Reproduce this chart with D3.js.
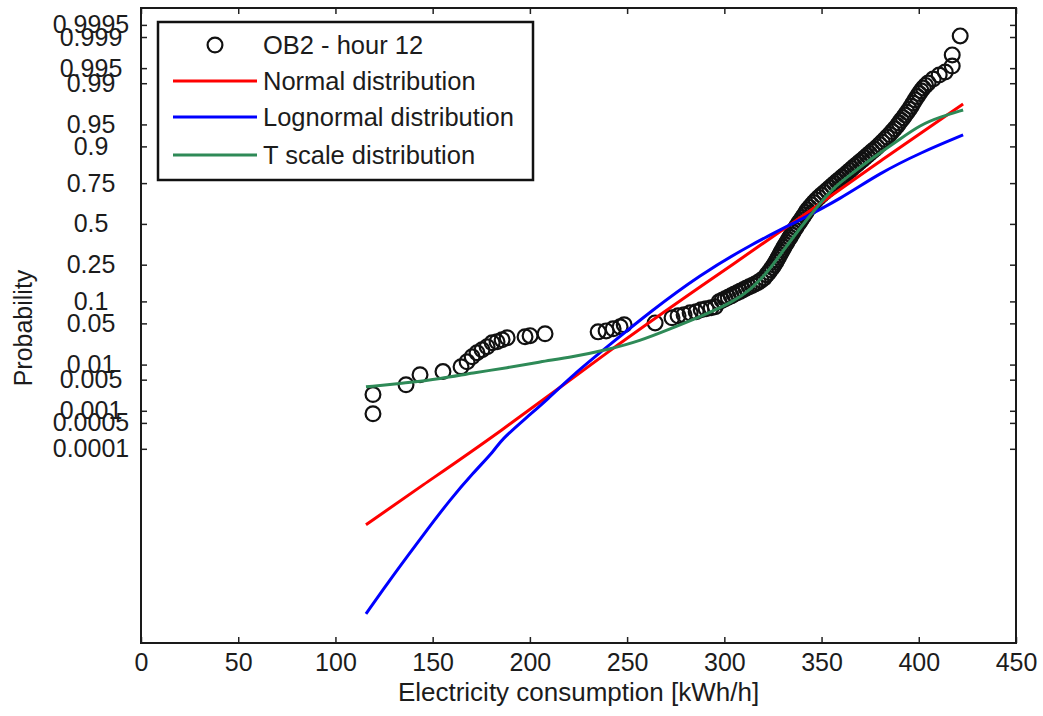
<!DOCTYPE html>
<html>
<head>
<meta charset="utf-8">
<script src="https://cdn.jsdelivr.net/npm/d3@7"></script>
<style>
  html, body { margin: 0; padding: 0; background: #fff; }
  svg text { font-family: "Liberation Sans", Arial, sans-serif; fill: #1c1c1c; }
</style>
</head>
<body>
<div id="chart"></div>
<script>
// probability plot: OB2 - hour 12

// observed points (kWh/h, cumulative probability)
const obsX = [119.3,119.3,136.3,143.5,155.3,164.6,167.7,170.3,172.8,175.4,178.0,180.6,183.1,185.7,188.3,197.5,200.1,207.8,
  235.1,239.2,242.8,246.4,248.5,264.4,273.1,276.2,279.3,282.4,285.5,288.1,290.6,293.2,295.3,
  297.3,298.9,300.4,302.0,303.5,305.0,306.6,308.1,309.7,311.2,312.8,314.3,315.8,317.4,318.9,320.5,
  321.8,322.8,323.8,324.7,325.6,326.4,327.1,327.8,328.5,329.2,329.9,330.6,331.4,332.1,332.9,333.7,334.5,335.2,336.0,336.8,
  337.6,338.5,339.4,340.2,341.1,341.9,342.7,343.8,344.9,346.0,347.2,348.5,349.9,351.4,352.9,
  354.2,355.5,356.7,358.0,359.3,360.6,361.9,363.2,364.5,365.7,367.0,368.3,369.6,370.9,372.2,373.5,374.7,376.0,377.3,378.6,
  379.9,381.2,382.5,383.7,385.0,386.3,387.6,388.9,389.9,390.9,392.0,393.0,394.0,395.1,396.1,397.1,398.1,399.2,400.2,401.2,
  402.3,403.5,404.8,407.4,410.5,413.6,417.2,417.2,421.3];
const obsP = [0.00085,0.0024,0.0039,0.0063,0.0073,0.0091,0.0113,0.0140,0.0166,0.0187,0.0211,0.0247,0.0257,0.0277,0.0299,0.0310,0.0323,0.0346,
  0.0371,0.0384,0.0414,0.0444,0.0477,0.0508,0.0603,0.0642,0.0664,0.0707,0.0729,0.0777,0.0801,0.0826,0.0851,
  0.0988,0.1034,0.1078,0.1124,0.1170,0.1221,0.1271,0.1323,0.1377,0.1434,0.1493,0.1545,0.1606,0.1670,0.1755,0.1860,
  0.1999,0.2113,0.2238,0.2361,0.2490,0.2626,0.2760,0.2900,0.3043,0.3189,0.3337,0.3490,0.3645,0.3798,0.3960,0.4118,0.4278,0.4443,0.4606,0.4769,
  0.4933,0.5100,0.5263,0.5426,0.5592,0.5753,0.5914,0.6076,0.6232,0.6387,0.6543,0.6693,0.6840,0.6988,0.7130,
  0.7247,0.7366,0.7479,0.7593,0.7700,0.7808,0.7910,0.8009,0.8108,0.8202,0.8295,0.8382,0.8469,0.8549,0.8628,0.8706,0.8778,0.8849,0.8916,0.8985,
  0.9056,0.9123,0.9188,0.9248,0.9304,0.9365,0.9422,0.9479,0.9525,0.9567,0.9605,0.9642,0.9676,0.9709,0.9742,0.9772,0.9800,0.9824,0.9844,0.9862,
  0.9877,0.9890,0.9901,0.9917,0.9931,0.9940,0.9955,0.9974,0.99906];

// fitted distributions
const normalX = [115.7,143.5,182.1,241.3,287.5,339.0,380.1,422.8];
const normalP = [3.25e-7,6.9e-6,2.29e-4,0.0187,0.1489,0.5395,0.8511,0.9763];

const lognormalX = [115.7,128.1,136.8,147.1,158.9,170.8,182.1,184.7,198.6,208.8,222.2,239.7,261.8,287.5,313.3,339.0,359.6,380.1,400.7,422.8];
const lognormalP = [5.7e-11,2.0e-9,1.85e-8,2.11e-7,2.52e-6,1.91e-5,9.35e-5,1.67e-4,7.1e-4,0.00181,0.00628,0.0210,0.0729,0.1997,0.3643,0.5263,0.6602,0.8004,0.8798,0.9293];

const tscaleX = [115.7,136.8,153.8,170.8,188.3,205.2,222.2,239.7,256.7,272.1,287.5,304.5,313.3,322.0,330.2,339.0,347.7,356.0,364.7,373.5,380.1,390.4,400.7,411.0,422.8];
const tscaleP = [0.00353,0.00430,0.00520,0.00689,0.00866,0.01128,0.01398,0.01863,0.02656,0.0413,0.0621,0.0987,0.1377,0.2090,0.3278,0.4737,0.6106,0.7241,0.7910,0.8473,0.8798,0.9200,0.9491,0.9615,0.9702];

// axes
const xTicks = [0,50,100,150,200,250,300,350,400,450];
const yTickProbs = [0.0001,0.0005,0.001,0.005,0.01,0.05,0.1,0.25,0.5,0.75,0.9,0.95,0.99,0.995,0.999,0.9995];
const yTickLabels = ["0.0001","0.0005","0.001","0.005","0.01","0.05","0.1","0.25","0.5","0.75","0.9","0.95","0.99","0.995","0.999","0.9995"];

const legendLabels = ["OB2 - hour 12","Normal distribution","Lognormal distribution","T scale distribution"];
const seriesColors = ["#ff0000","#0000ff","#2e8a57"];

// inverse normal CDF (Acklam)
function probit(p) {
  const a = [-3.969683028665376e+01, 2.209460984245205e+02, -2.759285104469687e+02, 1.383577518672690e+02, -3.066479806614716e+01, 2.506628277459239e+00];
  const b = [-5.447609879822406e+01, 1.615858368580409e+02, -1.556989798598866e+02, 6.680131188771972e+01, -1.328068155288572e+01];
  const c = [-7.784894002430293e-03, -3.223964580411365e-01, -2.400758277161838e+00, -2.549732539343734e+00, 4.374664141464968e+00, 2.938163982698783e+00];
  const d = [7.784695709041462e-03, 3.224671290700398e-01, 2.445134137142996e+00, 3.754408661907416e+00];
  const pl = 0.02425;
  let q, r;
  if (p < pl) {
    q = Math.sqrt(-2 * Math.log(p));
    return (((((c[0]*q+c[1])*q+c[2])*q+c[3])*q+c[4])*q+c[5]) / ((((d[0]*q+d[1])*q+d[2])*q+d[3])*q+1);
  }
  if (p <= 1 - pl) {
    q = p - 0.5; r = q * q;
    return (((((a[0]*r+a[1])*r+a[2])*r+a[3])*r+a[4])*r+a[5])*q / (((((b[0]*r+b[1])*r+b[2])*r+b[3])*r+b[4])*r+1);
  }
  q = Math.sqrt(-2 * Math.log(1 - p));
  return -(((((c[0]*q+c[1])*q+c[2])*q+c[3])*q+c[4])*q+c[5]) / ((((d[0]*q+d[1])*q+d[2])*q+d[3])*q+1);
}

const W = 1043, H = 716;
const margin = { top: 8, right: 27, bottom: 73, left: 141 };
const iw = W - margin.left - margin.right;
const ih = H - margin.top - margin.bottom;

const svg = d3.select("#chart").append("svg")
  .attr("width", W).attr("height", H);
const g = svg.append("g").attr("transform", `translate(${margin.left},${margin.top})`);

const x = d3.scaleLinear().domain([0, 450]).range([0, iw]);
// normal probability scale: linear in z = probit(p)
const z = d3.scaleLinear().domain([-6.93, 3.57]).range([ih, 0]);
const y = p => z(probit(p));

const zTicks = yTickProbs.map(probit);

function styleTicks(sel) {
  sel.select(".domain").remove();
  sel.selectAll(".tick line").attr("stroke", "#222").attr("stroke-width", 1.5);
}

// bottom
g.append("g").attr("transform", `translate(0,${ih})`)
  .call(d3.axisBottom(x).tickValues(xTicks).tickSizeInner(-6).tickSizeOuter(0).tickPadding(10))
  .call(styleTicks)
  .selectAll("text").style("font-size", "25px").attr("fill", "#1c1c1c");
// top
g.append("g")
  .call(d3.axisTop(x).tickValues(xTicks).tickSizeInner(-6).tickSizeOuter(0).tickFormat(""))
  .call(styleTicks);
// left
g.append("g")
  .call(d3.axisLeft(z).tickValues(zTicks).tickFormat((d, i) => yTickLabels[i]).tickSizeInner(-6).tickSizeOuter(0))
  .call(styleTicks)
  .selectAll("text")
  .attr("x", -50).attr("text-anchor", "middle")
  .style("font-size", "25px").attr("fill", "#1c1c1c");
// right
g.append("g").attr("transform", `translate(${iw},0)`)
  .call(d3.axisRight(z).tickValues(zTicks).tickSizeInner(-6).tickSizeOuter(0).tickFormat(""))
  .call(styleTicks);

// frame
g.append("rect")
  .attr("width", iw).attr("height", ih)
  .attr("fill", "none").attr("stroke", "#1a1a1a").attr("stroke-width", 2);

// observations
const obs = d3.zip(obsX, obsP);
g.append("g").selectAll("circle")
  .data(obs)
  .enter().append("circle")
    .attr("cx", d => x(d[0]))
    .attr("cy", d => y(d[1]))
    .attr("r", 7.4)
    .attr("fill", "none")
    .attr("stroke", "#111")
    .attr("stroke-width", 2.2);

// fitted curves
const line = d3.line().x(d => x(d[0])).y(d => y(d[1])).curve(d3.curveBasis);
const curves = [d3.zip(normalX, normalP), d3.zip(lognormalX, lognormalP), d3.zip(tscaleX, tscaleP)];
curves.forEach((c, i) => {
  g.append("path")
    .datum(c)
    .attr("d", line)
    .attr("fill", "none")
    .attr("stroke", seriesColors[i])
    .attr("stroke-width", 3)
    .attr("stroke-linejoin", "round");
});

// axis titles
svg.append("text")
  .attr("x", margin.left + iw / 2).attr("y", 701)
  .attr("text-anchor", "middle")
  .style("font-size", "26px")
  .text("Electricity consumption [kWh/h]");

svg.append("text")
  .attr("transform", "translate(32,328) rotate(-90)")
  .attr("text-anchor", "middle")
  .style("font-size", "25px")
  .text("Probability");

// legend
const lg = svg.append("g").attr("transform", "translate(158,22)");
lg.append("rect")
  .attr("width", 375).attr("height", 158)
  .attr("fill", "#fff").attr("stroke", "#111").attr("stroke-width", 2.5);

const rowY = [23, 59, 95, 133];
lg.append("circle")
  .attr("cx", 57).attr("cy", rowY[0]).attr("r", 7.4)
  .attr("fill", "none").attr("stroke", "#111").attr("stroke-width", 2.2);
seriesColors.forEach((col, i) => {
  lg.append("line")
    .attr("x1", 15).attr("x2", 99)
    .attr("y1", rowY[i + 1]).attr("y2", rowY[i + 1])
    .attr("stroke", col).attr("stroke-width", 3);
});
lg.selectAll(".lg-label")
  .data(legendLabels)
  .enter().append("text")
    .attr("class", "lg-label")
    .attr("x", 105)
    .attr("y", (d, i) => rowY[i])
    .attr("dy", "0.36em")
    .style("font-size", "25.5px")
    .text(d => d);
</script>
</body>
</html>
